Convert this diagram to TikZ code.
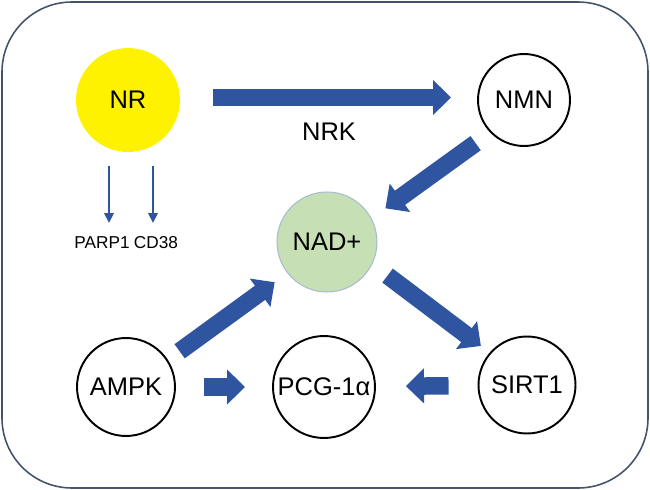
\documentclass[tikz,border=0pt]{standalone}
\usepackage{fontspec}
\setmainfont{Liberation Sans}
\usepackage{tikz}
\usetikzlibrary{positioning, arrows.meta}
\definecolor{arrowblue}{HTML}{2F55A0}
\definecolor{framegray}{HTML}{44546A}
\definecolor{nadgreen}{HTML}{C6DFB4}
\definecolor{nadline}{HTML}{A9BCD0}

\begin{document}
\begin{tikzpicture}[x=0.02cm, y=-0.02cm,
  every node/.style = {font=\fontsize{14.5}{16}\selectfont},
  mol/.style = {shape=circle, draw, line width=1.1pt, inner sep=0pt},
  fat/.style = {draw=arrowblue, line width=0.35cm,
    -{Triangle[width=0.68cm, length=0.36cm]}},
  slim/.style = {draw=arrowblue, line width=1.2pt,
    -{Triangle[width=0.19cm, length=0.2cm]}},
  small/.style = {font=\fontsize{9.8}{11}\selectfont}]
  \useasboundingbox (0,0) rectangle (650,490);
  \draw[framegray, line width=0.9pt, rounded corners=1.4cm] (2,2) rectangle (648,488);

  % molecules
  \node[mol, draw=none, fill=yellow, minimum size=2.08cm] (nr) at (128,100) {NR};
  \node[mol, minimum size=1.84cm] (nmn) at (524,100) {NMN};
  \node[mol, draw=nadline, line width=0.6pt, fill=nadgreen, minimum size=2cm] (nad) at (327,242) {NAD+};
  \node[mol, minimum size=1.96cm] (ampk) at (126,387) {AMPK};
  \node[mol, minimum size=2.04cm] (pcg) at (324,387) {PCG-1α};
  \node[mol, minimum size=1.94cm] (sirt) at (527,385) {SIRT1};

  % consumers of NAD+
  \node[small] (parp) at (102,243) {PARP1};
  \node[small] (cd) at (156,243) {CD38};
  \coordinate (p1) at (109,223);
  \coordinate (c1) at (153,223);
  \draw[slim, shorten <=0.26cm] (nr.south -| p1) -- (p1);
  \draw[slim, shorten <=0.26cm] (nr.south -| c1) -- (c1);

  % pathway
  \draw[fat, shorten <=0.64cm, shorten >=0.52cm] ([yshift=0.05cm]nr.east) -- node[yshift=-0.68cm] (nrk) {NRK} ([yshift=0.05cm]nmn.west);
  \draw[fat, shorten <=0.36cm, shorten >=0.34cm] (nmn.224) -- (nad.28);
  \draw[fat, shorten <=0.38cm, shorten >=0.22cm] (nad.334) -- (sirt.139);
  \draw[fat, shorten <=0.29cm, shorten >=0.31cm] (ampk.33) -- (nad.218);
  \draw[fat, shorten <=0.56cm, shorten >=0.54cm] (ampk) -- (pcg);
  \draw[fat, shorten <=0.58cm, shorten >=0.6cm] (sirt) -- (pcg);
\end{tikzpicture}
\end{document}
